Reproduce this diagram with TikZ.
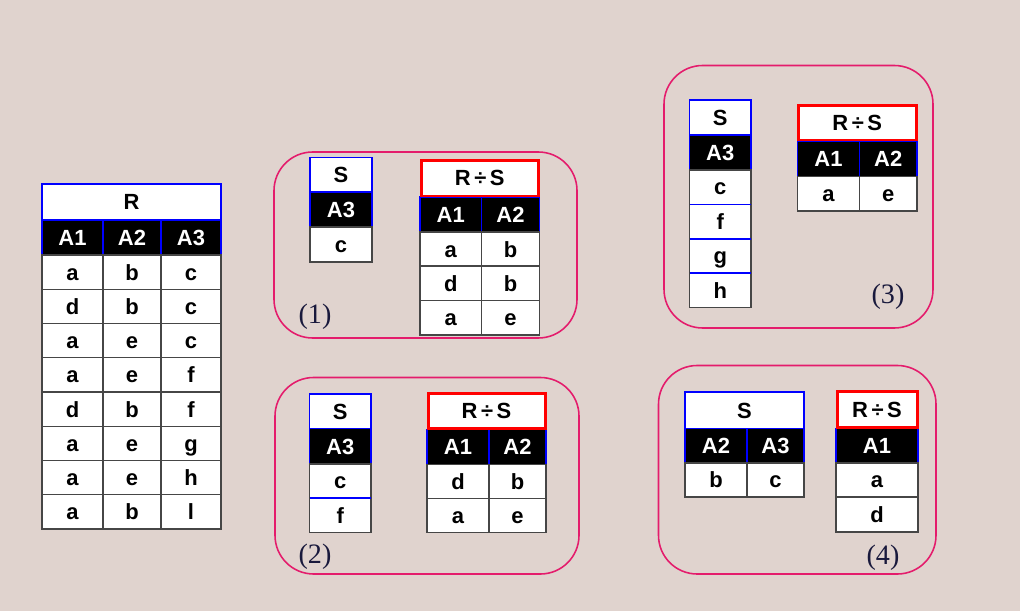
\documentclass[tikz,border=0pt]{standalone}
\usepackage{fontspec}
\setmainfont{Liberation Sans}
\newfontfamily\numfont{Liberation Serif}
\definecolor{bgbrown}{RGB}{224,211,206}
\definecolor{boxpink}{RGB}{228,28,108}
\definecolor{cellgray}{RGB}{70,70,70}
\definecolor{labelnavy}{RGB}{25,25,60}
\begin{document}
\begin{tikzpicture}[x=0.02cm,y=-0.02cm,
  cell/.style={font=\bfseries\fontsize{12.5}{15}\selectfont,inner sep=0pt,text height=9pt,text depth=0pt},
  head/.style={cell,text=white},
  blueline/.style={draw=blue,line width=0.6pt},
  grayline/.style={draw=cellgray,line width=0.6pt},
  redbox/.style={draw=red,line width=1.7pt},
  boxline/.style={draw=boxpink,line width=0.9pt,rounded corners=22},
  caseno/.style={font=\numfont\fontsize{16}{19}\selectfont,text=labelnavy}]
\fill[bgbrown] (0,0) rectangle (1020,611);
% table R
\fill[white] (42,184) rectangle (221,529);
\fill[black] (42,220) rectangle (221,255);
\draw[blueline] (42,184) rectangle (221,255) (42,220) -- (221,220)
  (103,220) -- (103,255) (161,220) -- (161,255);
\draw[grayline] (42,255) rectangle (221,529) (103,255) -- (103,529) (161,255) -- (161,529);
\foreach \y in {289.25,323.5,357.75,392,426.25,460.5,494.75}
  \draw[grayline] (42,\y) -- (221,\y);
\node[cell] (R) at (131.5,202) {R};
\node[head] (R-A1) at (72.5,237.5) {A1};
\node[head] (R-A2) at (132,237.5) {A2};
\node[head] (R-A3) at (191,237.5) {A3};
\foreach \a/\b/\c [count=\i] in {a/b/c,d/b/c,a/e/c,a/e/f,d/b/f,a/e/g,a/e/h,a/b/l} {
  \node[cell] (r\i-1) at (72.5,237.875+34.25*\i) {\a};
  \node[cell] (r\i-2) at (132,237.875+34.25*\i) {\b};
  \node[cell] (r\i-3) at (191,237.875+34.25*\i) {\c};
}
% case (1)
\draw[boxline] (274,152) rectangle (577,338);
\fill[white] (310,157.5) rectangle (372,262);
\fill[black] (310,192) rectangle (372,227);
\draw[blueline] (310,157.5) rectangle (372,227) (310,192) -- (372,192);
\draw[grayline] (310,227) rectangle (372,262);
\node[cell] (S1) at (341,175) {S};
\node[head] (S1-A3) at (341,209.5) {A3};
\node[cell] (s1-1) at (341,244.5) {c};
\fill[white] (420,159) rectangle (539.5,335);
\fill[black] (420,197) rectangle (539.5,232);
\draw[blueline] (420,197) rectangle (539.5,232) (481.5,197) -- (481.5,232);
\draw[grayline] (420,232) rectangle (539.5,335) (481.5,232) -- (481.5,335)
  (420,266) -- (539.5,266) (420,300.5) -- (539.5,300.5);
\draw[redbox] (421,160.5) rectangle (538.5,196);
\node[cell] (Q1) at (479.75,178) {R\hspace{2pt}÷\hspace{2pt}S};
\node[head] (Q1-A1) at (450.75,214.5) {A1};
\node[head] (Q1-A2) at (510.5,214.5) {A2};
\foreach \a/\b [count=\i] in {a/b,d/b,a/e} {
  \node[cell] (q1\i-1) at (450.75,215+34.3*\i) {\a};
  \node[cell] (q1\i-2) at (510.5,215+34.3*\i) {\b};
}
\node[caseno] (n1) at (315,317) {(1)};
% case (2)
\draw[boxline] (275,377.5) rectangle (579,574);
\fill[white] (309.5,394) rectangle (371,532.5);
\fill[black] (309.5,428.5) rectangle (371,464);
\draw[blueline] (309.5,394) rectangle (371,464) (309.5,428.5) -- (371,428.5);
\draw[grayline] (309.5,464) rectangle (371,532.5);
\draw[blueline] (309.5,498) -- (371,498);
\node[cell] (S2) at (340.25,411.25) {S};
\node[head] (S2-A3) at (340.25,446.25) {A3};
\node[cell] (s2-1) at (340.25,481) {c};
\node[cell] (s2-2) at (340.25,515.25) {f};
\fill[white] (427,392) rectangle (546,532.5);
\fill[black] (427,429.5) rectangle (546,464.5);
\draw[blueline] (427,429.5) rectangle (546,464.5) (489,429.5) -- (489,464.5);
\draw[grayline] (427,464.5) rectangle (546,532.5) (489,464.5) -- (489,532.5) (427,498.5) -- (546,498.5);
\draw[redbox] (428,393.5) rectangle (545,428.5);
\node[cell] (Q2) at (486.5,411) {R\hspace{2pt}÷\hspace{2pt}S};
\node[head] (Q2-A1) at (458,447) {A1};
\node[head] (Q2-A2) at (517.5,447) {A2};
\node[cell] (q21-1) at (458,481.5) {d};
\node[cell] (q21-2) at (517.5,481.5) {b};
\node[cell] (q22-1) at (458,515.5) {a};
\node[cell] (q22-2) at (517.5,515.5) {e};
\node[caseno] (n2) at (315,557) {(2)};
% case (3)
\draw[boxline] (664,65.5) rectangle (933,328);
\fill[white] (689.5,100) rectangle (751,307.5);
\fill[black] (689.5,135) rectangle (751,170);
\draw[blueline] (689.5,100) rectangle (751,170) (689.5,135) -- (751,135);
\draw[grayline] (689.5,170) rectangle (751,307.5);
\foreach \y in {204.5,239,273}
  \draw[blueline] (689.5,\y) -- (751,\y);
\node[cell] (S3) at (720.25,117.5) {S};
\node[head] (S3-A3) at (720.25,152.5) {A3};
\foreach \a [count=\i] in {c,f,g,h}
  \node[cell] (s3-\i) at (720.25,152.5+34.4*\i) {\a};
\fill[white] (797.5,104) rectangle (917,211);
\fill[black] (797.5,141) rectangle (917,176.5);
\draw[blueline] (797.5,141) rectangle (917,176.5) (859.5,141) -- (859.5,176.5);
\draw[grayline] (797.5,176.5) rectangle (917,211) (859.5,176.5) -- (859.5,211);
\draw[redbox] (798.5,105.5) rectangle (916,140);
\node[cell] (Q3) at (857.25,123) {R\hspace{2pt}÷\hspace{2pt}S};
\node[head] (Q3-A1) at (828.5,159) {A1};
\node[head] (Q3-A2) at (888.25,159) {A2};
\node[cell] (q31-1) at (828.5,194) {a};
\node[cell] (q31-2) at (888.25,194) {e};
\node[caseno] (n3) at (888,297) {(3)};
% case (4)
\draw[boxline] (658.5,365.5) rectangle (936,574);
\fill[white] (685,392) rectangle (804,497);
\fill[black] (685,428.5) rectangle (804,463);
\draw[blueline] (685,392) rectangle (804,463) (685,428.5) -- (804,428.5) (747,428.5) -- (747,463);
\draw[grayline] (685,463) rectangle (804,497) (747,463) -- (747,497);
\node[cell] (S4) at (744.5,410.25) {S};
\node[head] (S4-A2) at (716,445.75) {A2};
\node[head] (S4-A3) at (775.5,445.75) {A3};
\node[cell] (s4-1) at (716,480) {b};
\node[cell] (s4-2) at (775.5,480) {c};
\fill[white] (836,390) rectangle (918,532);
\fill[black] (836,428.5) rectangle (918,463);
\draw[blueline] (836,428.5) rectangle (918,463);
\draw[grayline] (836,463) rectangle (918,532) (836,497) -- (918,497);
\draw[redbox] (837,391.5) rectangle (917,427.5);
\node[cell] (Q4) at (877,409.5) {R\hspace{2pt}÷\hspace{2pt}S};
\node[head] (Q4-A1) at (877,445.75) {A1};
\node[cell] (q41-1) at (877,480) {a};
\node[cell] (q42-1) at (877,514.5) {d};
\node[caseno] (n4) at (883,558) {(4)};
\end{tikzpicture}
\end{document}
